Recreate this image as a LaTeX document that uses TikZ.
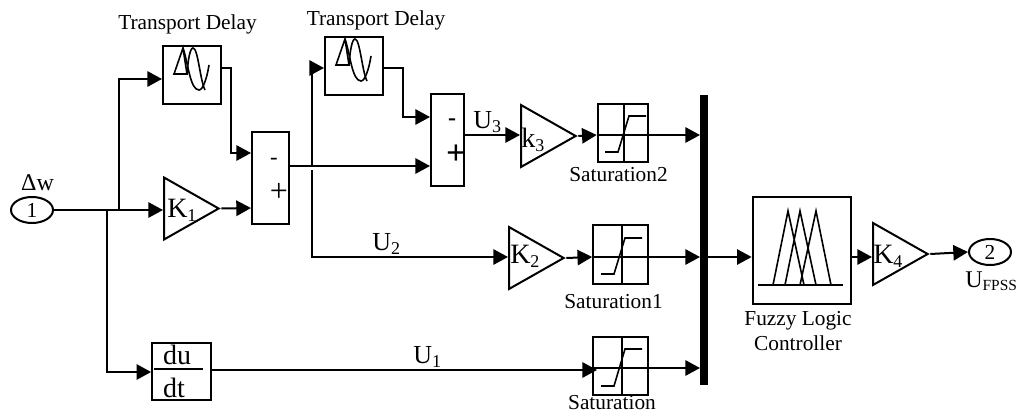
\documentclass[tikz,border=0pt]{standalone}
\usepackage{fontspec}
\setmainfont{Liberation Serif}
\usetikzlibrary{arrows.meta,positioning,shapes.geometric}
\tikzset{
  wire/.style={line width=1.5pt},
  arrowwire/.style={wire,-{Triangle[length=11pt,width=11.5pt]}},
  blockbox/.style={draw,line width=1.5pt,inner sep=0pt},
  gainblock/.style={draw,line width=1.5pt,isosceles triangle,isosceles triangle stretches,
    shape border rotate=0,inner sep=0pt,anchor=lower side,minimum width=46.5pt,minimum height=41pt},
  portblock/.style={draw,line width=1.5pt,ellipse,inner sep=0pt,minimum width=31.5pt,minimum height=19.5pt,font=\fontsize{16}{16}\selectfont},
  lbl/.style={inner sep=0pt,font=\fontsize{16}{18.2}\selectfont},
  biglbl/.style={inner sep=0pt,anchor=base west,font=\fontsize{19.5}{20}\selectfont},
  gainlbl/.style={inner sep=0pt,anchor=base west,font=\fontsize{21}{21}\selectfont},
}
% subscript digits, delay and saturation icons
\newcommand{\lowsub}[1]{\raisebox{-3pt}{\fontsize{13.5}{14}\selectfont #1}}
\newcommand{\delayicon}[2]{
  \draw[line width=1.2pt] (#1+11,#2+28)--(#1+24,#2+28)--(#1+20,#2+2)--cycle;
  \draw[line width=1.2pt] (#1+20,#2+2) .. controls (#1+25,#2+16) and (#1+27,#2+44) .. (#1+36,#2+44)
    .. controls (#1+40,#2+44) and (#1+44,#2+32) .. (#1+46,#2+19);
  \draw[line width=1.2pt] (#1+24,#2+28) .. controls (#1+25,#2+14) and (#1+27,#2+2) .. (#1+30,#2+2)
    .. controls (#1+35,#2+2) and (#1+37,#2+34) .. (#1+42,#2+44);
}
\newcommand{\satplot}[3]{
  \draw[line width=1.2pt] (#1+3,#3)--(#1+16,#3)--(#1+27,#2)--(#1+44,#2);
}
\begin{document}
\begin{tikzpicture}[x=0.75pt,y=-0.75pt]
  \useasboundingbox (0,0) rectangle (1029,414);

  \node[portblock] (inport) at (32,210) {1};
  \node[inner sep=0pt,font=\fontsize{18}{18}\selectfont] (dwlabel) at (37.5,183) {Δw};
  \coordinate (branchtop) at (119,210);
  \coordinate (branchlow) at (106.5,210);

  \node[blockbox,minimum width=43.5pt,minimum height=43.5pt] (delayA) at (192,75) {};
  \node[blockbox,minimum width=43.5pt,minimum height=43.5pt] (delayB) at (354,65.5) {};
  \node[lbl] (delayAlabel) at (187.5,24) {Transport Delay};
  \node[lbl] (delayBlabel) at (376,20) {Transport Delay};
  \delayicon{163}{46}
  \delayicon{325}{37}

  \node[blockbox,minimum width=27.75pt,minimum height=69pt] (sumA) at (270.5,178) {};
  \node[font=\fontsize{17}{17}\selectfont,inner sep=0pt] (sumAminus) at (274,161) {-};
  \node[font=\fontsize{24}{24}\selectfont,inner sep=0pt] (sumAplus) at (279,192) {+};
  \node[blockbox,minimum width=24.75pt,minimum height=69pt] (sumB) at (447.5,140) {};
  \node[font=\bfseries\fontsize{18}{18}\selectfont,inner sep=0pt] (sumBminus) at (452,122) {-};
  \node[font=\bfseries\fontsize{26}{26}\selectfont,inner sep=0pt] (sumBplus) at (456,155) {+};

  \node[gainblock] (gainA) at (163,208.5) {};
  \node[gainblock] (gainB) at (508,258) {};
  \node[gainblock] (gainC) at (520,136) {};
  \node[gainblock] (gainD) at (872,254) {};
  \node[gainlbl] (gainAlabel) at (167,217) {K\lowsub{1}};
  \node[gainlbl] (gainBlabel) at (510,263) {K\lowsub{2}};
  \node[gainlbl] (gainClabel) at (521,147) {k\lowsub{3}};
  \node[gainlbl] (gainDlabel) at (873,263) {K\lowsub{4}};

  \node[blockbox,minimum width=38pt,minimum height=43.5pt] (satC) at (623,133) {};
  \node[blockbox,minimum width=41pt,minimum height=44pt] (satB) at (620.5,254.5) {};
  \node[blockbox,minimum width=41pt,minimum height=43.5pt] (satA) at (620.5,366) {};
  \draw[wire] (624,104)--(624,162) (622,225)--(622,284) (622,337)--(622,395);
  \satplot{602}{116}{152}
  \satplot{598}{238}{274}
  \satplot{598}{349}{386}
  \node[lbl] (satClabel) at (618.5,175) {Saturation2};
  \node[lbl] (satBlabel) at (613.5,302) {Saturation1};
  \node[lbl] (satAlabel) at (612,403) {Saturation};
  \coordinate (satAin) at (597,370);

  \node[blockbox,minimum width=44pt,minimum height=43pt] (deriv) at (181.5,371.5) {};
  \draw[wire] (154,369)--(203,369);
  \node[biglbl,anchor=center,font=\fontsize{21}{21}\selectfont] (derivtop) at (177,355) {du};
  \node[biglbl,anchor=center,font=\fontsize{21}{21}\selectfont] (derivlow) at (174,388) {dt};

  \fill (700,95) rectangle (707.5,385);
  \coordinate (barA) at (700,135);
  \coordinate (barB) at (700,257);
  \coordinate (barC) at (700,368);
  \coordinate (barOut) at (707,257);

  \node[blockbox,minimum width=74pt,minimum height=80pt] (fuzzy) at (802,250.5) {};
  \draw[wire] (758,285)--(843,285);
  \draw[line width=1.2pt] (773,285)--(788,211)--(804,285) (785,285)--(800,211)--(816,285) (800,285)--(816,211)--(831,285);
  \node[lbl,align=center] (fuzzylabel) at (798,331) {Fuzzy Logic\\Controller};

  \node[portblock] (outport) at (990,252) {2};
  \node[inner sep=0pt,anchor=base west,font=\fontsize{18}{18}\selectfont] (outlabel) at (965,287) {U\raisebox{-2.5pt}{\fontsize{11.6}{12}\selectfont FPSS}};

  \node[biglbl] (labelUC) at (473,128) {U\lowsub{3}};
  \node[biglbl] (labelUB) at (372,250) {U\lowsub{2}};
  \node[biglbl] (labelUA) at (413,363) {U\lowsub{1}};

  % signal lines
  \draw[arrowwire] (inport.east)--(gainA.lower side|-inport.east);
  \draw[arrowwire] (branchtop)--(119,79)--(delayA.west|-0,79);
  \draw[arrowwire] (branchlow)--(106.5,372)--(deriv.west|-0,372);
  \draw[arrowwire] (delayA.east|-0,68)--(231,68)--(231,153)--(sumA.west|-0,153);
  \draw[arrowwire] (gainA.apex)--(sumA.west|-0,208);
  \draw[arrowwire] (sumA.east|-0,166)--(sumB.west|-0,166);
  \draw[arrowwire] (312,166)--(312,68)--(delayB.west|-0,68);
  \draw[arrowwire] (312,170)--(312,257)--(gainB.lower side|-0,257);
  \draw[arrowwire] (delayB.east|-0,68)--(403,68)--(403,117)--(sumB.west|-0,117);
  \draw[arrowwire] (sumB.east|-0,135)--(gainC.lower side|-0,135);
  \draw[arrowwire] (gainC.apex)--(satC.west|-0,135);
  \draw[arrowwire] (gainB.apex)--(satB.west|-0,257);
  \draw[arrowwire] (deriv.east|-0,370)--(satAin);
  \draw[arrowwire] (satC.west|-0,135)--(barA);
  \draw[arrowwire] (satB.west|-0,257)--(barB);
  \draw[arrowwire] (satA.west|-0,368)--(barC);
  \draw[arrowwire] (barOut)--(fuzzy.west|-0,257);
  \draw[arrowwire] (fuzzy.east|-0,257)--(gainD.lower side|-0,257);
  \draw[arrowwire] (gainD.apex)--(outport.west);
\end{tikzpicture}
\end{document}
